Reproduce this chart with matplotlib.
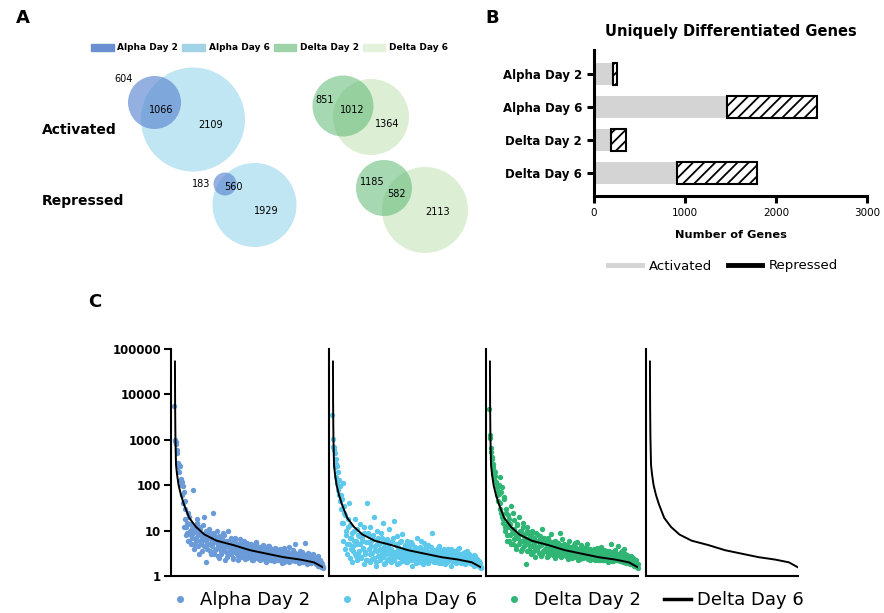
import numpy as np
import matplotlib.pyplot as plt
from matplotlib.patches import Circle, Patch
from matplotlib.lines import Line2D

plt.rcParams['font.family'] = 'DejaVu Sans'
plt.rcParams['hatch.linewidth'] = 1.3

# ---- A: venn counts (only first, shared, only second) ----
venn_names = ['Alpha Day 2', 'Alpha Day 6', 'Delta Day 2', 'Delta Day 6']
act_alpha = [604, 1066, 2109]
act_delta = [851, 1012, 1364]
rep_alpha = [183, 560, 1929]
rep_delta = [1185, 582, 2113]

# ---- B: uniquely differentiated genes ----
groups = ['Alpha Day 2', 'Alpha Day 6', 'Delta Day 2', 'Delta Day 6']
activated = [210, 1460, 190, 910]
repressed = [40, 990, 160, 880]

# ---- C: ranked values (x = rank fraction) ----
curve_x = [0.026, 0.027, 0.029, 0.033, 0.04, 0.05, 0.065, 0.085, 0.12, 0.165,
           0.22, 0.3, 0.41, 0.52, 0.63, 0.74, 0.85, 0.94, 1.0]
curve_y = [53000, 6000, 1200, 280, 170, 100, 62, 38, 19, 12,
           8.2, 6.0, 4.8, 3.7, 3.1, 2.6, 2.3, 2.0, 1.55]

alpha_d2 = [5600, 950, 820, 520, 300, 280, 260, 140, 120, 95,
            70, 18, 45, 12, 9, 25, 6, 14, 8, 11,
            80, 5, 10, 7, 15, 4.5, 9, 12, 6, 5.5,
            3.5, 8, 20, 6.5, 10, 4, 7, 5, 9, 3,
            6, 4.5, 24, 8, 3.8, 5.5, 7, 2.8, 4.2, 6.5,
            3.5, 5, 9, 4, 2.2, 6, 4.8, 3.2, 10, 5.2,
            4, 3, 5.8, 2.5, 4.5, 7, 3.6, 4.2, 2.8, 5,
            3.8, 6.5, 2.6, 4, 3.2, 5.5, 2.4, 4.6, 3.4, 2.9,
            4.2, 3, 5, 2.3, 3.6, 4.4, 2.7, 3.3, 5.2, 2.5,
            3.1, 4.3, 2.2, 3.7, 2.9, 4.8, 2.6, 3.5, 2, 3.9,
            2.8, 3.4, 4.5, 2.3, 3, 2.6, 3.8, 2.1, 3.3, 4,
            2.5, 3.1, 2.2, 3.6, 2.8, 1.9, 3.2, 2.6, 4.2, 2.4,
            2.9, 2.2, 3.4, 2, 2.7, 3.1, 2.3, 3.7, 2.5, 2.1,
            5, 2.6, 2.2, 3, 1.9, 2.7, 2.4, 3.4, 2, 2.5,
            2.3, 2.9, 1.8, 2.6, 3.1, 2.1, 2.4, 1.9, 2.7, 2.2,
            2, 2.5, 1.8, 2.3, 1.7, 2.1, 1.9, 1.6, 1.8, 1.5]
alpha_d2_b = [1000, 900, 600, 250, 310, 200, 130, 100, 60, 40,
              12, 30, 8, 15, 6, 20, 10, 5, 13, 7,
              9, 4, 12, 6, 18, 8, 3, 11, 5, 7,
              13, 4.5, 9, 6, 2, 8, 5, 11, 3.5, 7,
              5, 9, 3, 6, 4, 10, 4.8, 2.5, 7.5, 5,
              3, 6.5, 4.2, 8, 3.6, 5, 2.6, 6, 4.4, 3.4,
              7, 4.6, 2.4, 5.4, 3.8, 6, 3.2, 4.8, 2.2, 4,
              5, 3.3, 4.4, 2.7, 6, 3.6, 4.1, 2.5, 5.2, 3,
              3.9, 2.6, 4.6, 3.2, 2.2, 4, 3.4, 5.6, 2.8, 3.6,
              2.4, 4.4, 3, 3.8, 2.6, 3.2, 4.2, 2.3, 3.5, 2.8,
              4.6, 2.5, 3.2, 2.2, 3.9, 2.9, 3.3, 2.4, 4.1, 2.7,
              3.5, 2.3, 2.9, 4, 2.2, 3.3, 2.7, 2, 3.6, 2.9,
              2.4, 3.2, 2.7, 4.4, 2.1, 3, 2.6, 2.2, 3.4, 2.8,
              2.4, 3.1, 2.1, 2.8, 3.5, 2.3, 2.6, 2, 3, 2.5,
              5.2, 2.4, 2.2, 3.2, 2.6, 2, 2.8, 2.3, 3, 2.1,
              2.6, 2.2, 2, 2.4, 2.8, 1.8, 2.2, 2, 1.7, 1.6]

alpha_d6 = [3500, 1050, 700, 520, 380, 260, 200, 130, 95, 60,
            50, 110, 15, 35, 22, 8, 5, 12, 40, 7,
            4, 9, 3.5, 6, 18, 2.8, 11, 5, 3, 7.5,
            14, 2.5, 6, 4.2, 9, 3.3, 2.2, 40, 5.5, 8,
            3, 12, 4.5, 2.4, 6.5, 20, 3.8, 2, 5, 7,
            2.7, 4, 9, 3.2, 15, 1.8, 5.2, 3.6, 6, 2.3,
            4.4, 11, 3, 2.1, 5.8, 3.4, 16, 2.6, 4.8, 7.5,
            2.9, 3.8, 1.9, 5.5, 3.1, 8.5, 2.4, 4.2, 3.5, 2,
            6, 3, 4.6, 2.2, 3.7, 1.7, 5, 2.8, 4, 3.2,
            2.5, 7, 3.4, 2, 4.4, 2.9, 3.6, 1.8, 5.2, 2.6,
            3.9, 2.3, 3.1, 4.7, 2.1, 3.3, 2.7, 9, 2.4, 3.6,
            2, 3.5, 2.8, 4.2, 1.9, 3, 2.5, 3.8, 2.2, 2.9,
            3.4, 1.8, 2.6, 3.1, 4, 2.3, 2.8, 1.7, 3.3, 2.5,
            2.1, 3.6, 2.7, 1.9, 3, 2.4, 4.1, 2.2, 2.8, 2,
            3.2, 2.5, 1.8, 2.9, 2.3, 3.5, 2.1, 2.6, 1.9, 2.7,
            2.2, 2.4, 1.7, 2.8, 2, 2.3, 1.8, 2.1, 1.6, 1.5]
alpha_d6_b = [700, 600, 250, 290, 150, 110, 80, 60, 45, 30,
              15, 6, 25, 4, 10, 3, 18, 5, 2.5, 13,
              7, 2, 4.5, 10, 3, 6, 2.3, 8, 3.6, 5,
              2.6, 7, 4, 1.8, 12, 3, 5.5, 2.2, 9, 4,
              2, 6, 3.2, 8, 2.5, 4.6, 1.7, 3.6, 10, 2.8,
              5, 2.2, 3.8, 7, 2.6, 4.4, 1.9, 3, 6.5, 2.4,
              3.6, 5.2, 2, 4, 2.8, 7, 2.3, 3.3, 5, 1.8,
              4.4, 2.6, 3.2, 6, 2.1, 3.8, 2.9, 4.9, 2.4, 3.4,
              2, 4.2, 2.7, 3.6, 5.5, 2.3, 3.1, 2.6, 4.4, 1.9,
              3.4, 2.8, 4, 2.2, 3.7, 6, 2.5, 3, 2.1, 4.2,
              2.7, 3.5, 1.9, 3.1, 2.5, 4.4, 2.3, 3.2, 2.8, 2,
              3.7, 2.5, 3, 2.2, 4.5, 2.7, 1.9, 3.3, 2.4, 3.9,
              2.2, 2.9, 3.6, 2, 2.6, 3.2, 2.3, 4, 2.1, 2.8,
              3.3, 2.2, 2.5, 3.7, 2, 2.8, 2.3, 3.1, 1.9, 2.6,
              2.9, 2.1, 3.4, 2.4, 2, 2.7, 3, 2.2, 2.5, 1.8,
              2.6, 2, 2.9, 2.2, 1.9, 2.4, 2, 1.7, 1.9, 1.6]

delta_d2 = [4800, 1300, 650, 380, 300, 210, 160, 120, 90, 75,
            65, 150, 40, 25, 90, 18, 55, 12, 30, 8,
            22, 6, 14, 35, 9, 5, 17, 11, 7, 4.5,
            13, 8, 20, 6, 10, 4, 15, 7.5, 5.5, 9,
            3.5, 12, 6.5, 4.8, 8, 3, 10, 5.8, 7, 4.2,
            9, 3.8, 6, 4.5, 7.5, 2.8, 5.2, 11, 3.6, 6.2,
            4, 5, 2.6, 7, 3.4, 4.6, 8.5, 3, 5.5, 3.8,
            6, 2.5, 4.4, 3.2, 5.2, 3.6, 9, 2.7, 4, 3.3,
            5, 2.9, 3.8, 4.5, 2.4, 3.5, 6, 3.1, 4.2, 2.6,
            3.7, 4.8, 2.8, 3.3, 5.5, 2.3, 3.9, 3, 4.4, 2.7,
            3.5, 2.5, 4.2, 3.1, 2.8, 5, 2.4, 3.4, 2.9, 3.8,
            2.6, 3.2, 4, 2.3, 3, 2.7, 3.6, 2.2, 3.3, 2.9,
            4.3, 2.5, 3, 2.2, 2.8, 3.5, 2.4, 2, 3.1, 2.6,
            2.3, 5, 2.9, 2.1, 2.7, 3.3, 2.4, 2.2, 4.5, 2.6,
            2.1, 2.8, 3.6, 2, 2.5, 2.3, 3, 1.9, 2.6, 2.2,
            2.4, 1.8, 2.7, 2, 2.2, 1.7, 2.3, 1.9, 1.6, 1.8]
delta_d2_b = [1100, 550, 420, 250, 180, 140, 200, 110, 60, 45,
              100, 30, 70, 20, 15, 50, 10, 25, 14, 6,
              12, 18, 8, 5, 11, 25, 6.5, 9, 4, 14,
              7, 5, 10, 3.5, 8.5, 6, 12, 4.5, 7, 1.8,
              10, 5.5, 3.8, 7, 4.6, 9, 3.4, 6, 5, 2.6,
              5.8, 4, 8, 3.2, 6.6, 4.8, 3, 5.4, 7, 3.8,
              6.4, 3.3, 4.9, 2.7, 6, 4.1, 3.5, 5.2, 2.9, 4.4,
              3.7, 5.6, 2.9, 4.2, 3.4, 4.8, 2.6, 3.9, 6.4, 3.1,
              4, 3.3, 2.7, 4.7, 3.6, 2.9, 4.3, 3.4, 2.5, 3.9,
              3.1, 5.2, 2.6, 4.1, 3.4, 2.9, 3.6, 2.4, 4.7, 3.2,
              2.7, 3.7, 3.1, 4.4, 2.5, 3.3, 2.8, 4, 2.3, 3,
              3.6, 2.8, 2.4, 3.4, 2.7, 4.2, 2.5, 3.1, 2.3, 3.5,
              2.7, 3.3, 2.3, 3.8, 2.6, 2.2, 3.1, 2.7, 3.6, 2.4,
              2.9, 2.1, 3.3, 2.5, 3.8, 2.3, 2.8, 2.6, 2.2, 3.1,
              2.5, 3.3, 2.2, 2.7, 4, 2.1, 2.4, 2.9, 2.2, 2.6,
              2.1, 2.6, 2.3, 1.9, 2.5, 2.1, 1.8, 2.2, 1.7, 1.5]

fig = plt.figure(figsize=(8.84, 6.13), dpi=100)

# ---------- panel A (pixel coordinates overlay) ----------
ax_a = fig.add_axes([0, 0, 1, 1])
ax_a.set_xlim(0, 884)
ax_a.set_ylim(613, 0)
ax_a.axis('off')

# circle1 (cx, cy, r), circle2 (cx, cy, r), label spots
venn_layout = [
    ((154.5, 102.5, 26.5), (193, 119.5, 52), [(124, 79), (161, 110), (211, 125)]),
    ((343, 106, 30.5), (371, 117, 38), [(325, 100), (352, 110), (387, 124)]),
    ((225, 184, 11.5), (254.5, 205, 42), [(201, 184), (233, 187), (266, 211)]),
    ((384, 188, 28), (425, 210, 43), [(372, 182), (397, 194), (438, 212)]),
]
venn_counts = [act_alpha, act_delta, rep_alpha, rep_delta]
venn_pairs = [('#5b86d0', '#bfe6f2', 0.65), ('#5db873', '#dcefd5', 0.55),
              ('#5b86d0', '#bfe6f2', 0.65), ('#5db873', '#dcefd5', 0.55)]

for (c1, c2, spots), counts, (col1, col2, al) in zip(venn_layout, venn_counts, venn_pairs):
    ax_a.add_patch(Circle(c2[:2], c2[2], color=col2, lw=0, zorder=1))
    ax_a.add_patch(Circle(c1[:2], c1[2], color=col1, alpha=al, lw=0, zorder=2))
    for (tx, ty), n in zip(spots, counts):
        ax_a.text(tx, ty, str(n), fontsize=7, ha='center', va='center', zorder=3)

ax_a.text(42, 130, 'Activated', fontsize=10, fontweight='bold', va='center')
ax_a.text(42, 201, 'Repressed', fontsize=10, fontweight='bold', va='center')
ax_a.text(16, 18, 'A', fontsize=13, fontweight='bold', va='center')
ax_a.text(485, 18, 'B', fontsize=13, fontweight='bold', va='center')
ax_a.text(88, 302, 'C', fontsize=13, fontweight='bold', va='center')

leg_cols = ['#6a8fd0', '#a2d2e5', '#9fd4a8', '#e2f2dc']
fig.legend([Patch(color=c) for c in leg_cols], venn_names, ncol=4,
           loc='center', bbox_to_anchor=(0.305, 1 - 48 / 613), frameon=False,
           prop={'size': 6.5, 'weight': 'bold'}, handlelength=2.5, handleheight=0.9,
           handletextpad=0.4, columnspacing=0.45)

# ---------- panel B ----------
ax_b = fig.add_axes([594 / 884, 1 - 196 / 613, 273 / 884, 146 / 613])
ypos = np.arange(len(groups))
ax_b.barh(ypos, activated, height=0.67, color='#d4d4d4', lw=0)
ax_b.barh(ypos, repressed, left=activated, height=0.67, color='white',
          edgecolor='black', hatch='///', lw=1.5)
ax_b.set_ylim(3.7, -0.73)
ax_b.set_xlim(0, 3000)
ax_b.set_xticks([0, 1000, 2000, 3000])
ax_b.set_yticks(ypos)
ax_b.set_yticklabels(groups, fontsize=8.5, fontweight='bold')
ax_b.tick_params(axis='x', labelsize=7.5, width=2.2, length=5)
ax_b.tick_params(axis='y', width=2.2, length=5)
for s in ['top', 'right']:
    ax_b.spines[s].set_visible(False)
for s in ['left', 'bottom']:
    ax_b.spines[s].set_linewidth(2.2)
ax_b.set_title('Uniquely Differentiated Genes', fontsize=10.5, fontweight='bold', pad=10)
ax_b.set_xlabel('Number of Genes', fontsize=8.2, fontweight='bold', labelpad=9)
fig.legend([Line2D([], [], color='#d4d4d4', lw=3.5), Line2D([], [], color='black', lw=3.5)],
           ['Activated', 'Repressed'], ncol=2, loc='center',
           bbox_to_anchor=(0.818, 1 - 266 / 613), frameon=False, fontsize=9.5,
           handlelength=2.6, handletextpad=0.5, columnspacing=1.2)

# ---------- panel C ----------
panel_data = [(alpha_d2, alpha_d2_b), (alpha_d6, alpha_d6_b), (delta_d2, delta_d2_b), None]
panel_cols = ['#6a9bd8', '#5bc8ec', '#2fb574', None]
lefts = [171, 329, 486, 646]
for i, (vals, col, lx) in enumerate(zip(panel_data, panel_cols, lefts)):
    ax = fig.add_axes([lx / 884, 1 - 576 / 613, 152 / 884, 227 / 613])
    if vals is not None:
        v1, v2 = vals
        n = len(v1)
        x1 = (np.arange(n) + 3.5) / (n + 3)
        x2 = (np.arange(n) + 4.0) / (n + 3)
        ax.scatter(np.concatenate([x1, x2]), v1 + v2, s=15, color=col, lw=0,
                   clip_on=False, zorder=2)
    ax.plot(curve_x, curve_y, color='black', lw=1.4, zorder=3)
    ax.set_yscale('log')
    ax.set_ylim(1, 100000)
    ax.set_xlim(0, 1)
    ax.set_xticks([])
    ax.minorticks_off()
    for s in ['top', 'right']:
        ax.spines[s].set_visible(False)
    for s in ['left', 'bottom']:
        ax.spines[s].set_linewidth(1.5)
    if i == 0:
        ax.set_yticks([1, 10, 100, 1000, 10000, 100000])
        ax.set_yticklabels(['1', '10', '100', '1000', '10000', '100000'],
                           fontsize=8.5, fontweight='bold')
        ax.tick_params(axis='y', width=1.5, length=5, pad=2)
    else:
        ax.set_yticks([])

c_handles = [Line2D([], [], marker='o', ls='', color=c, markersize=4)
             for c in panel_cols[:3]]
c_handles.append(Line2D([], [], color='black', lw=2.5))
fig.legend(c_handles, ['Alpha Day 2', 'Alpha Day 6', 'Delta Day 2', 'Delta Day 6'],
           ncol=4, loc='center', bbox_to_anchor=(0.549, 1 - 600 / 613), frameon=False,
           fontsize=13, handlelength=1.5, handletextpad=0.35, columnspacing=1.3)

fig.savefig('out.png', dpi=100)
